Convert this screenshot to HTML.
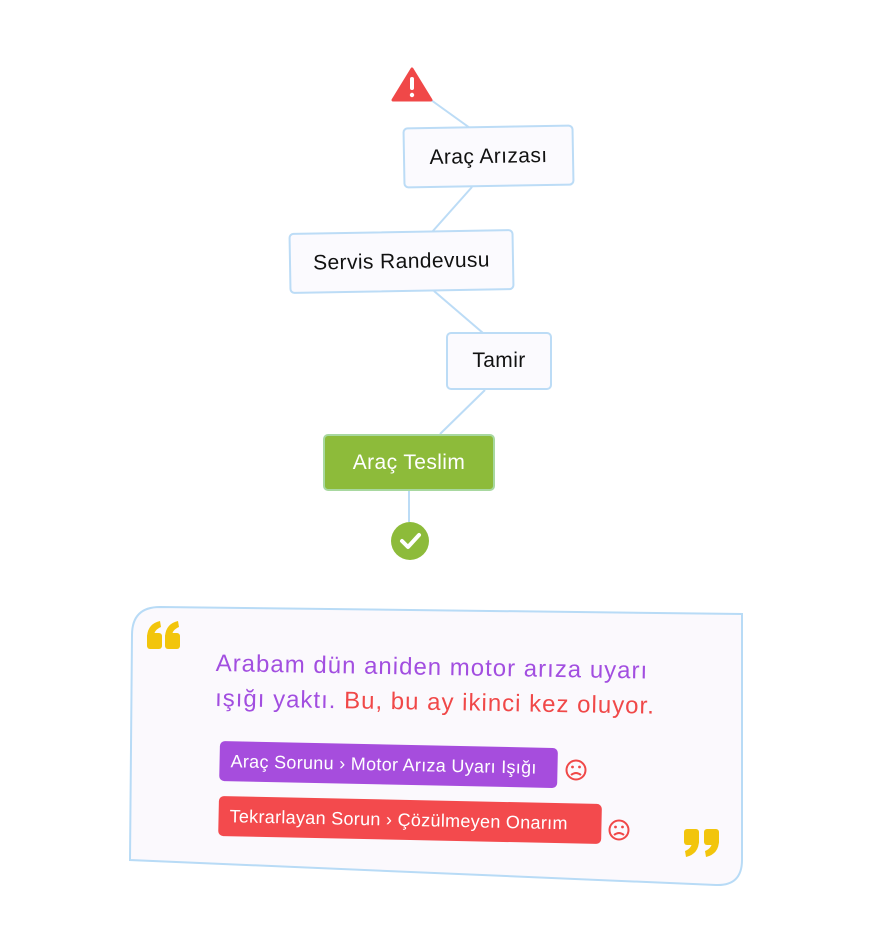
<!DOCTYPE html>
<html><head><meta charset="utf-8"><style>
body{margin:0;width:876px;height:943px;background:#fff;position:relative;overflow:hidden;font-family:"Liberation Sans","DejaVu Sans",sans-serif}
.n{position:absolute;box-sizing:border-box;background:#fbfafe;border:2px solid #bcdcf6;border-radius:5px;display:flex;align-items:center;justify-content:center;font-size:21px;letter-spacing:0.4px;color:#111}
.tag{position:absolute;box-sizing:border-box;border-radius:5px;color:#fff;font-size:18px;letter-spacing:0.3px;display:flex;align-items:center;padding-left:11px;transform-origin:left top;white-space:nowrap}
</style></head><body>
<svg width="876" height="943" style="position:absolute;left:0;top:0">
<g stroke="#bcdcf6" stroke-width="2">
<line x1="431" y1="100" x2="470" y2="128"/>
<line x1="472" y1="187" x2="432" y2="232"/>
<line x1="434" y1="291" x2="483" y2="333"/>
<line x1="485" y1="390" x2="440" y2="434"/>
<line x1="409" y1="491" x2="409" y2="522"/>
</g>
<path d="M412 69 L431 100 L393 100 Z" fill="#f04848" stroke="#f04848" stroke-width="3" stroke-linejoin="round"/>
<rect x="410" y="77" width="4" height="13" rx="2" fill="#fff"/>
<circle cx="412" cy="95" r="2.2" fill="#fff"/>
<circle cx="410" cy="541" r="19" fill="#8dbb3a"/>
<path d="M402 541 L408 547 L419 535" stroke="#fff" stroke-width="4" fill="none" stroke-linecap="round" stroke-linejoin="round"/>
<path d="M160 607 L742 614 L742 860 Q742 886 716 885 L130 860 L132 635 Q132 607 160 607 Z" fill="#fbf9fd" stroke="#b8dbf6" stroke-width="2"/>
<g fill="#f2c50c">
<rect x="147" y="633" width="15" height="16" rx="3"/><path d="M147 638 Q147 624 160 621 L161 627 Q154 630 154 636 Z"/>
<rect x="165" y="633" width="15" height="16" rx="3"/><path d="M165 638 Q165 624 178 621 L179 627 Q172 630 172 636 Z"/>
<rect x="684" y="829" width="15" height="16" rx="3"/><path d="M699 840 Q699 854 686 857 L685 851 Q692 848 692 842 Z"/>
<rect x="704" y="829" width="15" height="16" rx="3"/><path d="M719 840 Q719 854 706 857 L705 851 Q712 848 712 842 Z"/>
</g>
<g stroke="#f04848" stroke-width="2" fill="none">
<circle cx="576" cy="770" r="9.5"/><path d="M571 775 Q576 771 581 775"/>
<circle cx="619" cy="830" r="9.5"/><path d="M614 835 Q619 831 624 835"/>
</g>
<g fill="#f04848"><circle cx="572.5" cy="767" r="1.4"/><circle cx="579.5" cy="767" r="1.4"/><circle cx="615.5" cy="827" r="1.4"/><circle cx="622.5" cy="827" r="1.4"/></g>
</svg>
<div class="n" style="left:403px;top:126px;width:171px;height:61px;transform:rotate(-1deg)">Araç Arızası</div>
<div class="n" style="left:289px;top:231px;width:225px;height:61px;transform:rotate(-1deg)">Servis Randevusu</div>
<div class="n" style="left:446px;top:332px;width:106px;height:58px">Tamir</div>
<div class="n" style="left:323px;top:434px;width:172px;height:57px;background:#8dbb3a;border-color:#a8d8a0;color:#fff">Araç Teslim</div>
<div style="position:absolute;left:216px;top:646px;font-size:24px;letter-spacing:1px;line-height:35px;color:#a24ee0;transform:rotate(1deg);transform-origin:left top;white-space:nowrap">Arabam dün aniden motor arıza uyarı<br>ışığı yaktı. <span style="color:#f04848">Bu, bu ay ikinci kez oluyor.</span></div>
<div class="tag" style="left:220px;top:741px;width:338px;height:40px;background:#a64ddd;transform:rotate(1.2deg)">Araç Sorunu › Motor Arıza Uyarı Işığı</div>
<div class="tag" style="left:219px;top:796px;width:383px;height:40px;background:#f34a4d;transform:rotate(1.2deg)">Tekrarlayan Sorun › Çözülmeyen Onarım</div>
</body></html>
